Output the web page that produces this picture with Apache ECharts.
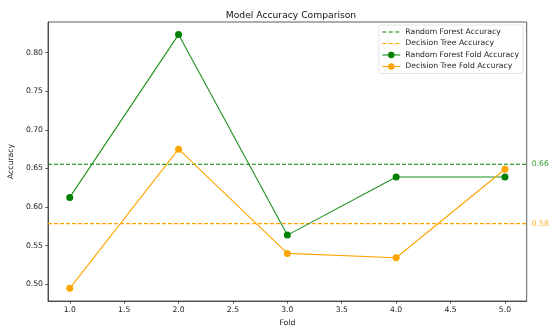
<!DOCTYPE html>
<html>
<head>
<meta charset="utf-8">
<script src="https://cdn.jsdelivr.net/npm/echarts@6/dist/echarts.min.js"></script>
<style>html,body{margin:0;padding:0;background:#fff;}#c{width:553px;height:325px;}</style>
</head>
<body>
<div id="c"></div>
<script>
const folds = [1, 2, 3, 4, 5];
const rfFold = [0.6125, 0.8233, 0.5637, 0.639, 0.639];
const dtFold = [0.4948, 0.675, 0.540, 0.5344, 0.649];
const rfMean = 0.6555;
const dtMean = 0.5786;
const xTicks = [1.0, 1.5, 2.0, 2.5, 3.0, 3.5, 4.0, 4.5, 5.0];
const yTicks = [0.50, 0.55, 0.60, 0.65, 0.70, 0.75, 0.80];
const xRange = [0.8, 5.2];
const yRange = [0.4784, 0.8396];

const GREEN = '#008000';
const GREEN_LINE = '#1f8f1f';
const ORANGE = '#FFA500';
const FONT = 'DejaVu Sans';

const chart = echarts.init(document.getElementById('c'), null, {renderer: 'canvas'});
const axisText = {color: '#222', fontFamily: FONT, fontSize: 7.7};
chart.setOption({
  animation: false,
  backgroundColor: '#fff',
  title: {
    text: 'Model Accuracy Comparison',
    left: 286, top: 6, textAlign: 'center',
    textStyle: {fontFamily: FONT, fontSize: 9.2, fontWeight: 'normal', color: '#111'}
  },
  grid: {left: 48, right: 26.3, top: 22, bottom: 24, containLabel: false, outerBoundsMode: 'none',
    show: true, borderColor: '#333', borderWidth: 0.8, backgroundColor: '#fff'},
  legend: {
    orient: 'vertical', right: 30, top: 25,
    backgroundColor: '#fff', borderColor: '#ddd', borderWidth: 0.8, borderRadius: 2,
    padding: [3, 4, 3, 3], itemGap: 3.5, itemWidth: 18, itemHeight: 8,
    textStyle: {fontFamily: FONT, fontSize: 7.7, color: '#222'},
    data: [
      {name: 'Random Forest Accuracy', itemStyle: {opacity: 0}, lineStyle: {type: [4, 2.5], width: 1.1, color: GREEN}},
      {name: 'Decision Tree Accuracy', itemStyle: {opacity: 0}, lineStyle: {type: [4, 2.5], width: 1.1, color: ORANGE}},
      {name: 'Random Forest Fold Accuracy', lineStyle: {width: 1.1, color: GREEN_LINE}},
      {name: 'Decision Tree Fold Accuracy', lineStyle: {width: 1.1, color: ORANGE}}
    ]
  },
  xAxis: {
    type: 'value', min: xRange[0], max: xRange[1],
    name: 'Fold', nameLocation: 'middle', nameGap: 15,
    nameTextStyle: {fontFamily: FONT, fontSize: 7.7, color: '#222'},
    splitLine: {show: false},
    axisLine: {show: true, onZero: false, lineStyle: {color: '#333', width: 0.8}},
    axisTick: {show: true, length: 2.7, lineStyle: {color: '#333', width: 0.8}, customValues: xTicks},
    axisLabel: Object.assign({margin: 5, customValues: xTicks, formatter: v => v.toFixed(1)}, axisText)
  },
  yAxis: {
    type: 'value', min: yRange[0], max: yRange[1],
    name: 'Accuracy', nameLocation: 'middle', nameGap: 31, nameRotate: 90,
    nameTextStyle: {fontFamily: FONT, fontSize: 7.7, color: '#222'},
    splitLine: {show: false},
    axisLine: {show: true, onZero: false, lineStyle: {color: '#333', width: 0.8}},
    axisTick: {show: true, length: 2.7, lineStyle: {color: '#333', width: 0.8}, customValues: yTicks},
    axisLabel: Object.assign({margin: 5, customValues: yTicks, formatter: v => v.toFixed(2)}, axisText)
  },
  series: [
    {
      name: 'Random Forest Accuracy', type: 'line', symbol: 'none',
      data: xRange.map(x => [x, rfMean]),
      lineStyle: {color: GREEN, width: 1.1, type: [4, 2]}, itemStyle: {color: GREEN},
      endLabel: {show: true, distance: 5, formatter: p => p.value[1].toFixed(2), color: '#3f9f3f', fontFamily: FONT, fontSize: 7.7},
      z: 2
    },
    {
      name: 'Decision Tree Accuracy', type: 'line', symbol: 'none',
      data: xRange.map(x => [x, dtMean]),
      lineStyle: {color: ORANGE, width: 1.1, type: [4, 2]}, itemStyle: {color: ORANGE},
      endLabel: {show: true, distance: 5, formatter: p => p.value[1].toFixed(2), color: '#ffb733', fontFamily: FONT, fontSize: 7.7},
      z: 2
    },
    {
      name: 'Random Forest Fold Accuracy', type: 'line', symbol: 'circle', symbolSize: 7,
      data: folds.map((f, i) => [f, rfFold[i]]),
      lineStyle: {color: GREEN_LINE, width: 1.1}, itemStyle: {color: GREEN},
      z: 3
    },
    {
      name: 'Decision Tree Fold Accuracy', type: 'line', symbol: 'circle', symbolSize: 7,
      data: folds.map((f, i) => [f, dtFold[i]]),
      lineStyle: {color: ORANGE, width: 1.1}, itemStyle: {color: ORANGE},
      z: 3
    }
  ]
});
</script>
</body>
</html>
